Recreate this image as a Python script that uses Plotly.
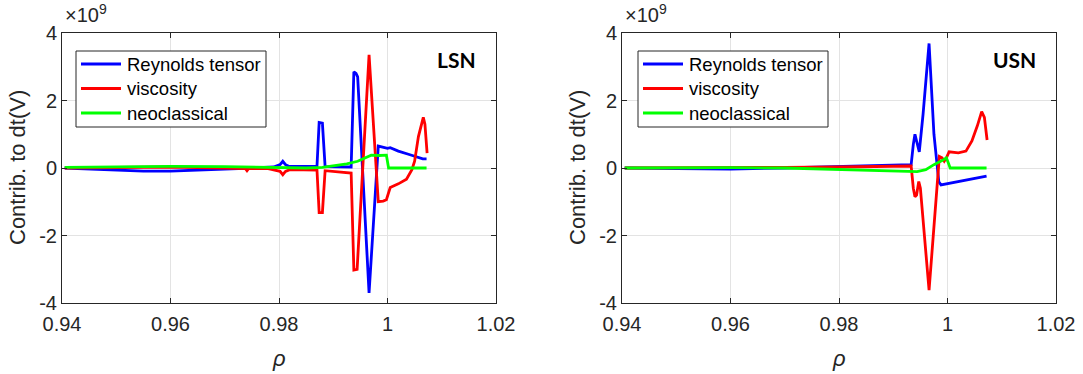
import plotly.graph_objects as go

W, H = 1083, 374

# ---------------- data (values in units of 1e9) ----------------
series_names = ["Reynolds tensor", "viscosity", "neoclassical"]
series_colors = ["#0000ff", "#ff0000", "#00ff00"]

# LSN
lsn_rey_rho = [0.9405, 0.945, 0.95, 0.955, 0.96, 0.965, 0.97, 0.975, 0.979, 0.9802, 0.9807, 0.9812,
               0.9818, 0.985, 0.9870, 0.9874, 0.9880, 0.9885, 0.9933, 0.9938, 0.9942, 0.9945, 0.9966,
               0.9983, 0.9990, 0.9993, 1.0000, 1.0005, 1.002, 1.004, 1.006, 1.0065, 1.0072]
lsn_rey_val = [0.0, -0.03, -0.06, -0.09, -0.09, -0.07, -0.03, 0.0, 0.03, 0.1, 0.2, 0.1,
               0.05, 0.05, 0.05, 1.35, 1.33, 0.04, 0.03, 2.85, 2.8, 2.7, -3.7,
               0.65, 0.63, 0.6, 0.58, 0.6, 0.5, 0.4, 0.3, 0.27, 0.27]

lsn_vis_rho = [0.9405, 0.95, 0.96, 0.97, 0.9738, 0.9741, 0.9744, 0.978, 0.9802, 0.9807, 0.9812, 0.982,
               0.987, 0.9874, 0.9880, 0.9885, 0.9933, 0.9938, 0.9944, 0.9966, 0.9983, 0.9992, 0.9998,
               1.0005, 1.002, 1.0035, 1.0045, 1.0050, 1.0057, 1.0066, 1.0069, 1.0073]
lsn_vis_val = [0.0, 0.02, 0.03, 0.0, -0.02, -0.08, -0.02, -0.02, -0.1, -0.2, -0.1, -0.05,
               -0.06, -1.32, -1.32, -0.08, -0.15, -3.02, -3.0, 3.35, -1.0, -0.98, -0.94,
               -0.58, -0.47, -0.33, -0.05, 0.2, 0.93, 1.5, 1.3, 0.44]

lsn_neo_rho = [0.9405, 0.95, 0.96, 0.97, 0.98, 0.985, 0.988, 0.990, 0.9925, 0.9945, 0.9962, 0.997,
               0.9985, 0.9998, 1.0002, 1.0072]
lsn_neo_val = [0.02, 0.04, 0.05, 0.04, 0.02, 0.0, 0.02, 0.07, 0.12, 0.2, 0.33, 0.38,
               0.37, 0.38, 0.0, 0.0]

# USN
usn_rey_rho = [0.9405, 0.95, 0.96, 0.97, 0.98, 0.99, 0.9933, 0.9937, 0.9940, 0.9943, 0.9948, 0.9955,
               0.9966, 0.9975, 0.9984, 0.9988, 0.9995, 1.002, 1.005, 1.0072]
usn_rey_val = [0.0, -0.02, -0.03, 0.0, 0.04, 0.08, 0.1, 0.7, 1.0, 0.8, 0.48, 1.6,
               3.69, 1.0, -0.41, -0.5, -0.48, -0.4, -0.3, -0.24]

usn_vis_rho = [0.9405, 0.95, 0.96, 0.97, 0.98, 0.99, 0.9933, 0.9937, 0.9940, 0.9943, 0.9947, 0.9950,
               0.9966, 0.9985, 0.9990, 0.9994, 0.9998, 1.0003, 1.002, 1.0034, 1.0045, 1.0055,
               1.0063, 1.0068, 1.0073]
usn_vis_val = [0.0, 0.0, 0.0, 0.02, 0.03, 0.05, 0.06, -0.6, -0.85, -0.8, -0.4, -0.6,
               -3.62, 0.34, 0.3, 0.2, 0.3, 0.48, 0.45, 0.5, 0.8, 1.25,
               1.67, 1.5, 0.83]

usn_neo_rho = [0.9405, 0.95, 0.96, 0.97, 0.975, 0.98, 0.99, 0.9944, 0.996, 0.9975, 0.999, 0.9998,
               1.0005, 1.0072]
usn_neo_val = [0.0, 0.01, 0.01, 0.0, -0.02, -0.05, -0.09, -0.11, -0.05, 0.1, 0.22, 0.3,
               0.0, 0.0]

x_tickvals = [0.94, 0.96, 0.98, 1.0, 1.02]
x_ticktext = ["0.94", "0.96", "0.98", "1", "1.02"]
y_tickvals = [-4, -2, 0, 2, 4]
y_ticktext = ["-4", "-2", "0", "2", "4"]
panel_labels = ["LSN", "USN"]
y_title = "Contrib. to dt(V)"
x_title = "ρ"

# ---------------- figure ----------------
fig = go.Figure()

panels = [
    [(lsn_rey_rho, lsn_rey_val), (lsn_vis_rho, lsn_vis_val), (lsn_neo_rho, lsn_neo_val)],
    [(usn_rey_rho, usn_rey_val), (usn_vis_rho, usn_vis_val), (usn_neo_rho, usn_neo_val)],
]

LW = 2.8
for p, traces in enumerate(panels):
    for k, (xs, ys) in enumerate(traces):
        fig.add_trace(go.Scatter(
            x=xs, y=ys, mode="lines", name=series_names[k],
            line=dict(color=series_colors[k], width=LW),
            xaxis="x" if p == 0 else "x2", yaxis="y" if p == 0 else "y2",
            showlegend=False,
        ))

TXT = "#262626"
FONT = "Liberation Sans, Arial, sans-serif"

def px_x(px):
    return px / W

def px_y(py):
    return 1 - py / H

plot_left = [62, 622]
plot_w = 434
plot_top, plot_bot = 33, 303

axis_common = dict(
    showline=True, linecolor=TXT, linewidth=1, mirror="allticks",
    ticks="inside", ticklen=5, tickcolor=TXT, tickwidth=1,
    showgrid=True, gridcolor="#e3e3e3", gridwidth=1, zeroline=False,
    tickfont=dict(family=FONT, size=20, color=TXT), automargin=False,
)

layout_axes = {}
for p in range(2):
    sx = "" if p == 0 else "2"
    layout_axes["xaxis" + sx] = dict(
        axis_common, domain=[px_x(plot_left[p]), px_x(plot_left[p] + plot_w)],
        range=[0.94, 1.02], tickvals=x_tickvals, ticktext=x_ticktext,
        anchor="y" + sx, ticklabelstandoff=3,
    )
    layout_axes["yaxis" + sx] = dict(
        axis_common, domain=[px_y(plot_bot), px_y(plot_top)],
        range=[-4, 4], tickvals=y_tickvals, ticktext=y_ticktext,
        anchor="x" + sx, ticklabelstandoff=0,
    )

annotations = []
shapes = []
for p in range(2):
    L = plot_left[p]
    annotations.append(dict(
        text="×10<sup>9</sup>", x=px_x(L + 1), y=px_y(28), xref="paper", yref="paper",
        xanchor="left", yanchor="bottom", showarrow=False,
        font=dict(family=FONT, size=20, color=TXT)))
    annotations.append(dict(
        text=y_title, textangle=-90, x=px_x(L - 45), y=px_y(168), xref="paper", yref="paper",
        xanchor="center", yanchor="middle", showarrow=False,
        font=dict(family=FONT, size=22, color=TXT)))
    annotations.append(dict(
        text="<i>" + x_title + "</i>", x=px_x(L + plot_w / 2), y=px_y(358), xref="paper", yref="paper",
        xanchor="center", yanchor="middle", showarrow=False,
        font=dict(family=FONT, size=22, color=TXT)))
    annotations.append(dict(
        text="<b>" + panel_labels[p] + "</b>", x=px_x(L + plot_w - 18), y=px_y(60),
        xref="paper", yref="paper", xanchor="right", yanchor="middle", showarrow=False,
        font=dict(family="Lato, sans-serif", size=21, color="#000000")))

    # legend box (drawn from series names/colours)
    bx0 = L + 14 + (2 if p == 1 else 0)
    bx1 = bx0 + 190
    by0, by1 = 51, 127
    shapes.append(dict(type="rect", xref="paper", yref="paper",
                       x0=px_x(bx0), x1=px_x(bx1), y0=px_y(by1), y1=px_y(by0),
                       line=dict(color=TXT, width=1), fillcolor="white", layer="above"))
    row_y = [64, 88.5, 113]
    for k in range(3):
        shapes.append(dict(type="line", xref="paper", yref="paper",
                           x0=px_x(bx0 + 5), x1=px_x(bx0 + 45), y0=px_y(row_y[k]), y1=px_y(row_y[k]),
                           line=dict(color=series_colors[k], width=LW), layer="above"))
        annotations.append(dict(
            text=series_names[k], x=px_x(bx0 + 49), y=px_y(row_y[k]), xref="paper", yref="paper",
            xanchor="left", yanchor="middle", showarrow=False,
            font=dict(family=FONT, size=18.5, color="#000000")))

fig.update_layout(
    width=W, height=H,
    margin=dict(l=0, r=0, t=0, b=0),
    paper_bgcolor="white", plot_bgcolor="white",
    showlegend=False,
    hovermode=False,
    annotations=annotations,
    shapes=shapes,
    **layout_axes,
)

fig.write_html(
    "out.html",
    config={"displayModeBar": False, "staticPlot": True},
    post_script="document.body.style.margin='0';document.body.style.overflow='hidden';",
)
